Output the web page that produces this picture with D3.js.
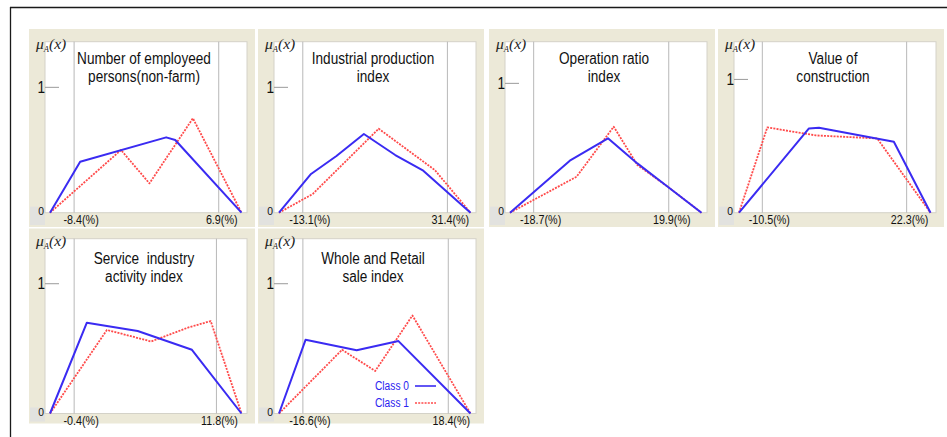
<!DOCTYPE html>
<html>
<head>
<meta charset="utf-8">
<script src="https://cdn.jsdelivr.net/npm/d3@7"></script>
<style>
  html, body { margin: 0; padding: 0; background: #ffffff; }
  svg { display: block; }
</style>
</head>
<body>
<svg id="chart" width="947" height="437"></svg>
<script>
// Membership functions mu_A(x) of two classes for six economic indicators.

const panelTitles = [
  ["Number of employeed", "persons(non-farm)"],
  ["Industrial production", "index"],
  ["Operation ratio", "index"],
  ["Value of", "construction"],
  ["Service  industry", "activity index"],
  ["Whole and Retail", "sale index"]
];

// x extent of each membership function (%)
const xExtents = [
  [-10.95, 9.31],
  [-20.42, 38.51],
  [-25.46, 29.26],
  [-15.80, 27.72],
  [-2.47, 13.95],
  [-22.35, 23.75]
];

// membership value at the top edge of each plot
const muTops = [1.364, 1.364, 1.322, 1.283, 1.347, 1.347];

// boundary values marked by the vertical guides and labelled under the axis
const boundValues = [
  [-8.4, 6.9],
  [-13.1, 31.4],
  [-18.7, 19.9],
  [-10.5, 22.3],
  [-0.4, 11.8],
  [-16.6, 18.4]
];

const class0 = [
  [[-10.95, 0], [-7.76, 0.407], [1.34, 0.601], [2.30, 0.580], [9.31, 0]],
  [[-20.42, 0], [-10.56, 0.309], [-2.74, 0.452], [5.70, 0.628], [15.35, 0.460], [23.98, 0.335], [38.51, 0]],
  [[-25.46, 0], [-8.37, 0.402], [2.53, 0.575], [10.93, 0.381], [19.61, 0.201], [29.26, 0]],
  [[-15.80, 0], [0.10, 0.632], [2.37, 0.637], [19.39, 0.532], [27.72, 0]],
  [[-2.47, 0], [0.69, 0.700], [5.05, 0.636], [9.70, 0.491], [13.95, 0]],
  [[-22.35, 0], [-15.96, 0.568], [-3.65, 0.488], [6.41, 0.558], [23.75, 0]]
];

const class1 = [
  [[-10.95, 0], [-3.44, 0.500], [-0.43, 0.234], [4.17, 0.753], [9.31, 0]],
  [[-20.42, 0], [-10.05, 0.149], [10.27, 0.670], [27.54, 0.340], [38.51, 0]],
  [[-25.46, 0], [-6.44, 0.278], [4.17, 0.665], [10.93, 0.369], [19.61, 0.201], [29.26, 0]],
  [[-15.80, 0], [-9.37, 0.640], [1.61, 0.580], [15.61, 0.557], [27.72, 0]],
  [[-2.47, 0], [2.41, 0.644], [6.20, 0.555], [9.36, 0.662], [11.31, 0.712], [13.95, 0]],
  [[-22.35, 0], [-7.17, 0.491], [0.82, 0.328], [9.77, 0.755], [23.75, 0]]
];

const legendLabels = ["Class 0", "Class 1"];

// ---- styling / layout ----
const BLUE = "#3a2bf2";
const RED = "#ff4a4a";
const BEIGE = "#ece9d8";
const SANS = "'Liberation Sans', Arial, sans-serif";
const SERIF = "'Liberation Serif', 'Times New Roman', serif";

const colLefts = [29, 258, 489, 718];
const panelWidth = 226;
const rows = [
  { top: 29, bottom: 227, plotTop: 41.7, plotBottom: 212.7, titleDy: 21.8 },
  { top: 228.5, bottom: 423.5, plotTop: 238.7, plotBottom: 413.5, titleDy: 25 }
];

const svg = d3.select("#chart");

// squeeze text horizontally to a narrow face
function narrow(sel, f) {
  sel.each(function () {
    const w = this.getComputedTextLength();
    this.setAttribute("textLength", (w * f).toFixed(2));
    this.setAttribute("lengthAdjust", "spacingAndGlyphs");
  });
}

// outer frame
svg.append("line").attr("x1", 10).attr("x2", 947).attr("y1", 7.5).attr("y2", 7.5)
  .attr("stroke", "#1a1a1a").attr("stroke-width", 1.3);
svg.append("line").attr("x1", 10.5).attr("x2", 10.5).attr("y1", 7).attr("y2", 437)
  .attr("stroke", "#1a1a1a").attr("stroke-width", 1.3);

panelTitles.forEach((title, i) => {
  const row = rows[Math.floor(i / 4)];
  const x0 = colLefts[i % 4];
  const x1 = x0 + panelWidth;
  const pl = x0 + 16, pr = x1 - 8;
  const pt = row.plotTop, pb = row.plotBottom;

  const g = svg.append("g");

  // panel background
  g.append("rect").attr("x", x0).attr("y", row.top)
    .attr("width", x1 - x0).attr("height", row.bottom - row.top)
    .attr("fill", BEIGE);
  // grey patch behind the zero label
  g.append("rect").attr("x", x0 + 1).attr("y", pb - 6)
    .attr("width", pl - x0 - 1).attr("height", row.bottom - pb + 4)
    .attr("fill", "#e2e2df");
  // plot area
  g.append("rect").attr("x", pl).attr("y", pt)
    .attr("width", pr - pl).attr("height", pb - pt)
    .attr("fill", "#ffffff").attr("stroke", "#d4d2c8").attr("stroke-width", 1);

  const x = d3.scaleLinear().domain(xExtents[i]).range([pl + 5, pr - 5.5]);
  const y = d3.scaleLinear().domain([0, muTops[i]]).range([pb, pt]);

  // boundary guides
  g.selectAll("line.guide").data(boundValues[i]).enter().append("line")
    .attr("class", "guide")
    .attr("x1", d => x(d)).attr("x2", d => x(d))
    .attr("y1", pt).attr("y2", pb)
    .attr("stroke", "#b8b8b8").attr("stroke-width", 1);

  // boundary labels
  const bl = g.selectAll("text.bound").data(boundValues[i]).enter().append("text")
    .attr("class", "bound")
    .attr("x", (d, k) => x(d) + (k === 0 ? 7 : 3))
    .attr("y", pb + 11.5)
    .attr("text-anchor", "middle")
    .attr("font-family", SANS).attr("font-size", 12.5).attr("fill", "#111")
    .text(d => d + "(%)");
  narrow(bl, 0.86);

  // y axis: tick at 1 and labels 0 / 1
  g.append("line").attr("x1", pl).attr("x2", pl + 14)
    .attr("y1", y(1)).attr("y2", y(1))
    .attr("stroke", "#9a9a9a").attr("stroke-width", 1);
  narrow(g.append("text").attr("x", pl).attr("y", y(1) + 5.5)
    .attr("text-anchor", "end")
    .attr("font-family", SANS).attr("font-size", 16).attr("fill", "#111")
    .text("1"), 0.85);
  narrow(g.append("text").attr("x", pl - 1).attr("y", y(0) + 2.5)
    .attr("text-anchor", "end")
    .attr("font-family", SANS).attr("font-size", 11.5).attr("fill", "#111")
    .text("0"), 0.9);

  // mu_A(x) label
  const mu = g.append("text").attr("x", x0 + 7).attr("y", pt + 7)
    .attr("font-family", SERIF).attr("font-style", "italic")
    .attr("font-size", 15.5).attr("fill", "#222");
  mu.append("tspan").text("\u03bc");
  mu.append("tspan").attr("font-size", 8.5).attr("dy", 3).text("A");
  mu.append("tspan").attr("dy", -3).text("(x)");

  // title
  const cx = (pl + pr) / 2 - 2;
  const tt = g.selectAll("text.title").data(title).enter().append("text")
    .attr("class", "title")
    .attr("x", cx)
    .attr("y", (d, k) => pt + row.titleDy + k * 18)
    .attr("text-anchor", "middle")
    .attr("xml:space", "preserve")
    .style("white-space", "pre")
    .attr("font-family", SANS).attr("font-size", 16).attr("fill", "#111")
    .text(d => d);
  narrow(tt, 0.85);

  const line = d3.line().x(d => x(d[0])).y(d => y(d[1]));

  g.append("path").datum(class1[i]).attr("d", line)
    .attr("fill", "none").attr("stroke", RED).attr("stroke-width", 1.8)
    .attr("stroke-dasharray", "2,1.2").attr("stroke-linejoin", "round");
  g.append("path").datum(class0[i]).attr("d", line)
    .attr("fill", "none").attr("stroke", BLUE).attr("stroke-width", 2)
    .attr("stroke-linejoin", "round");

  // legend in the last panel
  if (i === panelTitles.length - 1) {
    const lg = g.append("g");
    legendLabels.forEach((lab, k) => {
      const by = pb - 23.5 + k * 17;
      narrow(lg.append("text").attr("x", pl + 135).attr("y", by)
        .attr("text-anchor", "end")
        .attr("font-family", SANS).attr("font-size", 12).attr("fill", "#2a22f0")
        .text(lab), 0.85);
      lg.append("line").attr("x1", pl + 141).attr("x2", pl + 162)
        .attr("y1", by - 4).attr("y2", by - 4)
        .attr("stroke", k === 0 ? BLUE : RED)
        .attr("stroke-width", k === 0 ? 1.6 : 1.4)
        .attr("stroke-dasharray", k === 0 ? null : "2,1.2");
    });
  }
});
</script>
</body>
</html>
